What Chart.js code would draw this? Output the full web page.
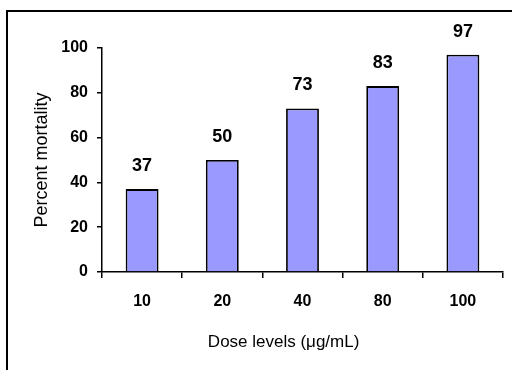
<!DOCTYPE html>
<html>
<head>
<meta charset="utf-8">
<script src="https://cdn.jsdelivr.net/npm/chart.js@4/dist/chart.umd.min.js"></script>
<style>
  body { margin: 0; background: #fff; }
  canvas { display: block; }
</style>
</head>
<body>
<canvas id="chart" width="512" height="370"></canvas>
<script>
// Data
const doses = ["10", "20", "40", "80", "100"];
const mortality = [37, 50, 73, 83, 97];
const yTicks = [0, 20, 40, 60, 80, 100];

const fontFamily = "'Liberation Sans', Arial, sans-serif";

// frame around the whole chart (runs off right and bottom like the picture)
const framePlugin = {
    id: "frame",
    beforeDraw(chart) {
        const ctx = chart.ctx;
        ctx.save();
        ctx.fillStyle = "#fff";
        ctx.fillRect(0, 0, chart.width, chart.height);
        ctx.strokeStyle = "#000";
        ctx.lineWidth = 2;
        ctx.strokeRect(7, 11, 520, 380);
        ctx.restore();
    }
};

// value labels above each bar
const valueLabels = {
    id: "valueLabels",
    afterDatasetsDraw(chart) {
        const ctx = chart.ctx;
        const meta = chart.getDatasetMeta(0);
        ctx.save();
        ctx.fillStyle = "#000";
        ctx.font = "bold 18px " + fontFamily;
        ctx.textAlign = "center";
        ctx.textBaseline = "middle";
        meta.data.forEach((bar, i) => {
            ctx.fillText(String(mortality[i]), bar.x, bar.y - 23);
        });
        ctx.restore();
    }
};

new Chart(document.getElementById("chart"), {
    type: "bar",
    data: {
        labels: doses,
        datasets: [{
            data: mortality,
            backgroundColor: "#9999ff",
            borderColor: "#000",
            borderWidth: 1.8,
            barPercentage: 0.41,
            categoryPercentage: 1
        }]
    },
    options: {
        responsive: false,
        animation: false,
        devicePixelRatio: 1,
        layout: { padding: { top: 48, right: 9, left: 0, bottom: 0 } },
        plugins: {
            legend: { display: false },
            tooltip: { enabled: false }
        },
        scales: {
            x: {
                grid: {
                    drawOnChartArea: false,
                    drawTicks: true,
                    tickLength: 6,
                    tickColor: "#000",
                    lineWidth: 1.5,
                    offset: true
                },
                border: { display: true, color: "#000", width: 1.5 },
                ticks: {
                    color: "#000",
                    padding: 14,
                    font: { size: 16, weight: "bold", family: fontFamily }
                },
                title: {
                    display: true,
                    text: "Dose levels (μg/mL)\u00a0\u00a0\u00a0\u00a0\u00a0\u00a0\u00a0\u00a0",
                    color: "#000",
                    font: { size: 17, family: fontFamily },
                    padding: { top: 0, bottom: 17 }
                },
                afterFit: s => { s.height = 98; }
            },
            y: {
                min: 0,
                max: 100,
                grid: {
                    drawOnChartArea: false,
                    drawTicks: true,
                    tickLength: 5,
                    tickColor: "#000",
                    lineWidth: 1.5
                },
                border: { display: true, color: "#000", width: 1.5 },
                afterBuildTicks: s => { s.ticks = yTicks.map(v => ({ value: v })); },
                ticks: {
                    color: "#000",
                    padding: 9,
                    font: { size: 16, weight: "bold", family: fontFamily }
                },
                title: {
                    display: true,
                    text: "Percent mortality",
                    color: "#000",
                    font: { size: 18, family: fontFamily },
                    padding: { top: 31, bottom: 0 }
                },
                afterFit: s => { s.width = 102; }
            }
        }
    },
    plugins: [framePlugin, valueLabels]
});
</script>
</body>
</html>
